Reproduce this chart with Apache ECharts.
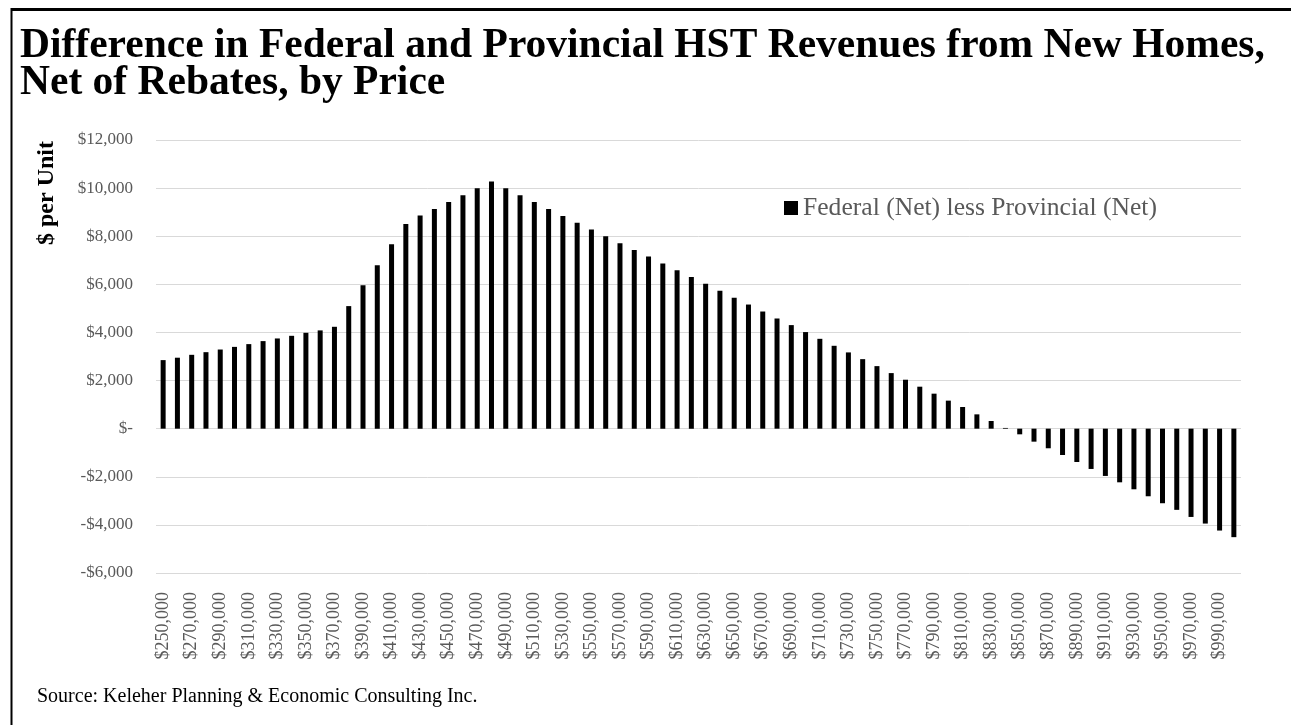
<!DOCTYPE html>
<html>
<head>
<meta charset="utf-8">
<script src="https://cdn.jsdelivr.net/npm/echarts@6/dist/echarts.min.js"></script>
<style>
  html, body { margin: 0; padding: 0; background: #fff; }
  #chart { width: 1291px; height: 725px; }
</style>
</head>
<body>
<div id="chart"></div>
<script>
var titleText = 'Difference in Federal and Provincial HST Revenues from New Homes,\nNet of Rebates, by Price';
var seriesName = 'Federal (Net) less Provincial (Net)';
var yAxisTitle = '$ per Unit';
var sourceText = 'Source: Keleher Planning & Economic Consulting Inc.';

var categories = [
  '$250,000','$260,000','$270,000','$280,000','$290,000','$300,000','$310,000','$320,000','$330,000','$340,000',
  '$350,000','$360,000','$370,000','$380,000','$390,000','$400,000','$410,000','$420,000','$430,000','$440,000',
  '$450,000','$460,000','$470,000','$480,000','$490,000','$500,000','$510,000','$520,000','$530,000','$540,000',
  '$550,000','$560,000','$570,000','$580,000','$590,000','$600,000','$610,000','$620,000','$630,000','$640,000',
  '$650,000','$660,000','$670,000','$680,000','$690,000','$700,000','$710,000','$720,000','$730,000','$740,000',
  '$750,000','$760,000','$770,000','$780,000','$790,000','$800,000','$810,000','$820,000','$830,000','$840,000',
  '$850,000','$860,000','$870,000','$880,000','$890,000','$900,000','$910,000','$920,000','$930,000','$940,000',
  '$950,000','$960,000','$970,000','$980,000','$990,000','$1,000,000'
];

var netDifference = [
  2850, 2950, 3070, 3180, 3290, 3400, 3515, 3640, 3750, 3860,
  3985, 4085, 4235, 5095, 5965, 6795, 7665, 8510, 8860, 9135,
  9425, 9700, 9990, 10280, 9990, 9700, 9425, 9135, 8845, 8565,
  8275, 8000, 7710, 7430, 7155, 6865, 6590, 6300, 6020, 5730,
  5440, 5160, 4870, 4580, 4305, 4015, 3735, 3445, 3170, 2890,
  2600, 2310, 2035, 1745, 1455, 1165, 900, 595, 320, 30,
  -235, -540, -815, -1095, -1385, -1675, -1965, -2230, -2520, -2810,
  -3100, -3375, -3670, -3945, -4235, -4510
];

var yTicks = { min: -6000, max: 12000, interval: 2000 };

function fmtMoney(v) {
  if (v === 0) return '$-';
  var s = Math.abs(v).toString().replace(/\B(?=(\d{3})+(?!\d))/g, ',');
  return (v < 0 ? '-$' : '$') + s;
}

var chart = echarts.init(document.getElementById('chart'), null, { renderer: 'canvas' });
var serif = '"Liberation Serif", "DejaVu Serif", serif';

chart.setOption({
  backgroundColor: '#ffffff',
  animation: false,
  title: {
    text: titleText,
    left: 15,
    top: 23,
    textStyle: {
      fontFamily: serif,
      fontWeight: 'bold',
      fontSize: 41.5,
      lineHeight: 37,
      color: '#000000'
    }
  },
  legend: {
    data: [seriesName],
    left: 779,
    top: 190,
    icon: 'rect',
    itemWidth: 14,
    itemHeight: 14,
    textStyle: { fontFamily: serif, fontSize: 25.6, color: '#595959' }
  },
  grid: { left: 156, right: 50, top: 140, bottom: 152, containLabel: false },
  xAxis: {
    type: 'category',
    data: categories,
    axisLine: { show: false, onZero: false },
    axisTick: { show: false },
    axisLabel: {
      interval: 1,
      rotate: 90,
      margin: 19,
      fontFamily: serif,
      fontSize: 18,
      color: '#595959'
    },
    splitLine: { show: false }
  },
  yAxis: {
    type: 'value',
    min: yTicks.min,
    max: yTicks.max,
    interval: yTicks.interval,
    axisLine: { show: false },
    axisTick: { show: false },
    axisLabel: {
      formatter: fmtMoney,
      margin: 23,
      fontFamily: serif,
      fontSize: 17,
      color: '#595959'
    },
    splitLine: { lineStyle: { color: '#d9d9d9', width: 1 } }
  },
  series: [{
    name: seriesName,
    type: 'bar',
    data: netDifference,
    barWidth: 5,
    itemStyle: { color: '#000000' }
  }],
  graphic: [
    { type: 'line', shape: { x1: 11, y1: 9.5, x2: 1291, y2: 9.5 }, style: { stroke: '#000', lineWidth: 3 } },
    { type: 'line', shape: { x1: 11.5, y1: 8, x2: 11.5, y2: 725 }, style: { stroke: '#000', lineWidth: 2 } },
    {
      type: 'text',
      x: 47, y: 193,
      rotation: Math.PI / 2,
      style: {
        text: yAxisTitle,
        font: 'bold 24px ' + serif,
        fill: '#000',
        textAlign: 'center',
        textVerticalAlign: 'middle'
      }
    },
    {
      type: 'text',
      left: 37, top: 687,
      style: {
        text: sourceText,
        font: '20px ' + serif,
        fill: '#000'
      }
    }
  ]
});
</script>
</body>
</html>
